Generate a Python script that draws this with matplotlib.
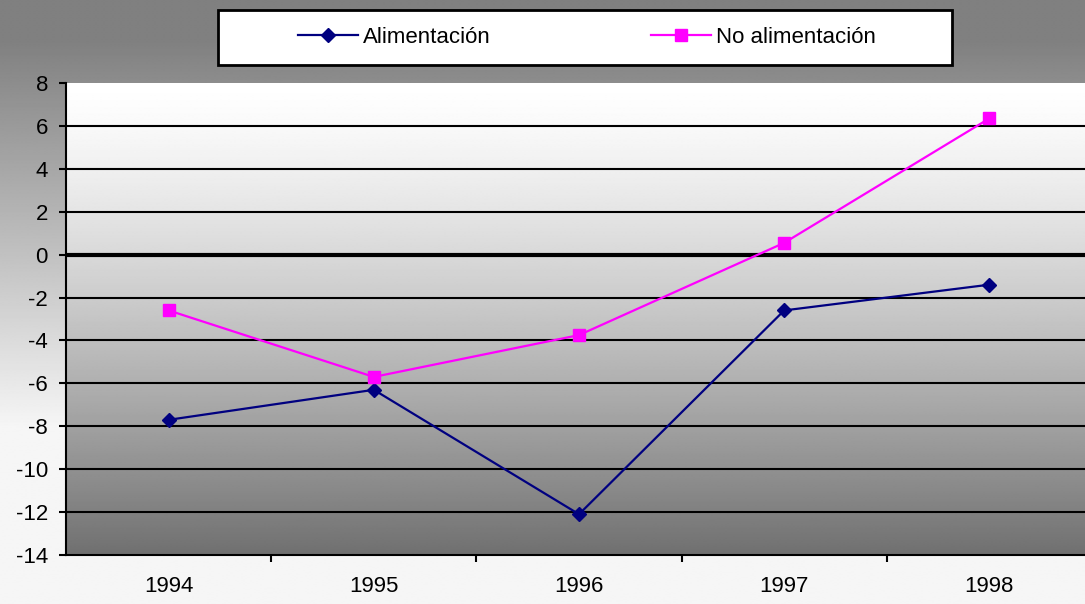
import numpy as np
import matplotlib
matplotlib.use("Agg")
import matplotlib.pyplot as plt
from matplotlib.patches import Rectangle

years = ["1994", "1995", "1996", "1997", "1998"]
alimentacion = [-7.7, -6.3, -12.1, -2.6, -1.4]
no_alimentacion = [-2.6, -5.7, -3.75, 0.55, 6.35]
yticks = [-14, -12, -10, -8, -6, -4, -2, 0, 2, 4, 6, 8]

plt.rcParams['font.family'] = ['Liberation Sans', 'DejaVu Sans']

W, H = 1085, 604
fig = plt.figure(figsize=(W / 100, H / 100), dpi=100)

# figure background gradient (gray at top, near-white at bottom)
bg = fig.add_axes([0, 0, 1, 1], zorder=-10)
yy = np.linspace(0, 1, 600)[:, None]
vals = 128 + 118 * np.clip((yy - 0.066) / 0.645, 0, 1)
bg.imshow(np.repeat(vals, 2, axis=1) / 255.0, cmap='gray', vmin=0, vmax=1,
          aspect='auto', extent=[0, 1, 1, 0], interpolation='bilinear')
bg.set_xlim(0, 1)
bg.set_ylim(1, 0)
bg.axis('off')

left = 66 / W
right = 1092 / W
bottom = 1 - 555 / H
top = 1 - 83 / H
ax = fig.add_axes([left, bottom, right - left, top - bottom])
ax.set_facecolor('none')

# plot area gradient (white at top, dark gray at bottom)
f = np.linspace(0, 1, 400)[:, None]
pv = 255 - 143 * f ** 1.3
ax.imshow(np.repeat(pv, 2, axis=1) / 255.0, cmap='gray', vmin=0, vmax=1,
          aspect='auto', extent=[0, 1, 0, 1], origin='upper',
          transform=ax.transAxes, zorder=0, interpolation='bilinear')

x = np.arange(len(years))
for yv in yticks[1:-1]:
    ax.axhline(yv, color='black', lw=3.0 if yv == 0 else 1.5, zorder=1)

ax.plot(x, alimentacion, color='#000080', lw=1.6, marker='D', markersize=7.5,
        label='Alimentación', zorder=3)
ax.plot(x, no_alimentacion, color='#ff00ff', lw=1.6, marker='s', markersize=8,
        label='No alimentación', zorder=3)

ax.set_xlim(-0.5, len(years) - 0.5)
ax.set_ylim(-14, 8)
ax.set_yticks(yticks)
ax.set_yticklabels([str(v) for v in yticks])
ax.set_xticks(x)
ax.set_xticklabels(years)
ax.set_xticks(np.arange(0.5, len(years) - 0.5, 1), minor=True)
ax.tick_params(axis='x', which='major', length=0, pad=15, labelsize=16)
ax.tick_params(axis='x', which='minor', length=5, width=1.5, direction='out')
ax.tick_params(axis='y', length=5, width=1.5, direction='out', pad=8, labelsize=16)
for s in ['top', 'right']:
    ax.spines[s].set_visible(False)
for s in ['left', 'bottom']:
    ax.spines[s].set_linewidth(1.5)
    ax.spines[s].set_zorder(2)

# legend box
rect = Rectangle((218 / W, 1 - 65 / H), 734 / W, 55 / H, transform=fig.transFigure,
                 facecolor='white', edgecolor='black', lw=2, zorder=5)
fig.patches.append(rect)
handles, labels = ax.get_legend_handles_labels()
leg = fig.legend(handles, labels, loc='center', bbox_to_anchor=(587 / W, 1 - 37.5 / H),
                 ncol=2, frameon=False, fontsize=16, handlelength=2.7,
                 handletextpad=0.25, columnspacing=7.2)
leg.set_zorder(6)

fig.savefig('out.png', dpi=100)
